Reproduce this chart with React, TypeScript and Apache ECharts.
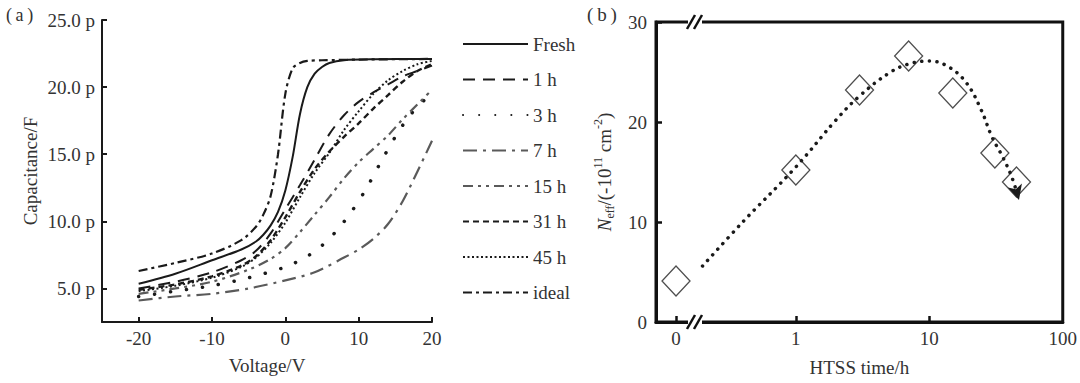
import React, { useEffect, useRef } from "react";
import * as echarts from "echarts";

// ---------- Data: panel (a) C–V curves, [voltage V, capacitance pF] ----------
const FRESH = [[-20, 5.35], [-15, 6.1], [-10, 7.1], [-6, 7.9], [-4, 8.5], [-3, 9.0], [-2, 9.7], [-1, 10.7], [0, 12.3], [1, 14.8], [2, 18.0], [3, 20.0], [4, 21.0], [5, 21.5], [6, 21.8], [8, 22.0], [12, 22.07], [20, 22.1]];
const H1 = [[-20, 5.0], [-15, 5.5], [-10, 6.2], [-6, 7.1], [-4, 7.8], [-2, 9.1], [0, 10.9], [2, 12.7], [4, 14.6], [6, 16.5], [8, 17.9], [10, 18.9], [12, 19.6], [14, 20.2], [16, 20.8], [18, 21.2], [20, 21.6]];
const H3 = [[-20, 4.4], [-15, 4.8], [-10, 5.2], [-5, 5.8], [0, 6.6], [3, 7.4], [5, 8.2], [7, 9.3], [9, 10.7], [11, 12.4], [13, 14.4], [15, 16.3], [17, 17.9], [20, 19.6]];
const H7 = [[-20, 4.1], [-15, 4.4], [-10, 4.6], [-5, 5.0], [0, 5.6], [4, 6.2], [8, 7.3], [10, 7.9], [12, 8.7], [14, 9.8], [16, 11.5], [18, 13.7], [20, 16.0]];
const H15 = [[-20, 4.6], [-15, 5.0], [-10, 5.5], [-5, 6.4], [-2, 7.2], [0, 8.0], [2, 9.2], [4, 10.5], [6, 11.8], [8, 13.2], [10, 14.4], [12, 15.4], [14, 16.4], [16, 17.6], [18, 18.7], [20, 19.8]];
const H31 = [[-20, 4.9], [-15, 5.3], [-10, 5.9], [-6, 6.7], [-4, 7.4], [-2, 8.6], [0, 10.3], [2, 12.2], [4, 13.9], [6, 15.2], [8, 16.3], [10, 17.3], [12, 18.4], [14, 19.4], [16, 20.4], [18, 21.2], [20, 21.7]];
const H45 = [[-20, 4.8], [-15, 5.2], [-10, 5.8], [-6, 6.6], [-4, 7.3], [-2, 8.4], [0, 9.9], [2, 11.8], [4, 13.6], [6, 15.1], [8, 16.8], [10, 18.2], [12, 19.5], [14, 20.5], [16, 21.2], [18, 21.7], [20, 21.95]];
const IDEAL = [[-20, 6.3], [-15, 6.9], [-10, 7.6], [-6, 8.6], [-4, 9.6], [-3, 10.5], [-2, 11.9], [-1, 15.0], [0, 19.5], [1, 21.4], [2, 21.8], [3, 21.95], [5, 22.0], [10, 22.05], [20, 22.1]];

const CURVE_NAMES = ["Fresh", "1 h", "3 h", "7 h", "15 h", "31 h", "45 h", "ideal"];
const CURVES = [FRESH, H1, H3, H7, H15, H31, H45, IDEAL];

const VOLT_TICKS = [-20, -10, 0, 10, 20];
const CAP_TICKS = [5, 10, 15, 20, 25];

// ---------- Data: panel (b) ----------
const HTSS_HOURS = [0, 1, 3, 7, 15, 31, 45];
const NEFF = [4.1, 15.2, 23.2, 26.6, 22.9, 16.9, 14.0];
const FIT_HOURS = [0.2, 0.4, 1, 2, 3, 5, 7, 10, 14, 19, 24.5, 29.5, 35.5, 41.5, 47];
const FIT_NEFF = [5.6, 10.0, 15.5, 20.2, 22.6, 24.9, 25.8, 26.1, 25.5, 23.9, 21.2, 18.5, 16.5, 14.5, 12.2];
const TIME_LABELS = ["0", "1", "10", "100"];

// position of the "0 h" point on the broken log axis (in decades)
const ZERO_POS = -0.898;
const toAxis = (t: number) => (t === 0 ? ZERO_POS : Math.log10(t));

// ---------- Styles ----------
const FONT = "'Liberation Serif', 'Times New Roman', 'DejaVu Serif', serif";
const TXT = "#333";
const INK = "#1a1a1a";
const GREY = "#5a5a5a";

const CURVE_STYLES: any[] = [
  { color: INK, width: 2, type: "solid" },
  { color: INK, width: 2, type: [12, 8] },
  { color: INK, width: 3.5, type: [0.1, 16], cap: "round" },
  { color: GREY, width: 2.2, type: [14, 6, 3, 6] },
  { color: GREY, width: 2.2, type: [10, 5, 3, 5, 3, 5] },
  { color: INK, width: 2.4, type: [6, 4] },
  { color: INK, width: 2, type: [2, 2.5] },
  { color: INK, width: 2.2, type: [9, 4, 3, 4] },
];

export default function App() {
  const ref = useRef<HTMLDivElement>(null);

  useEffect(() => {
    document.body.style.margin = "0";
    if (!ref.current) return;
    const chart = echarts.init(ref.current, null, { renderer: "svg" });

    const lineSeries = CURVES.map((pts, i) => ({
      name: CURVE_NAMES[i],
      type: "line",
      xAxisIndex: 0,
      yAxisIndex: 0,
      data: pts,
      symbol: "none",
      smooth: 0.3,
      lineStyle: { ...CURVE_STYLES[i] },
      itemStyle: { color: CURVE_STYLES[i].color },
      z: 3,
    }));

    const fitData: any[] = FIT_HOURS.map((t, i) => [toAxis(t), FIT_NEFF[i]]);
    const last = fitData[fitData.length - 1];
    fitData[fitData.length - 1] = {
      value: last,
      symbol: "arrow",
      symbolSize: [11, 15],
      symbolRotate: 196,
    };

    const timeLabelValues = [ZERO_POS, 0, 1, 2];

    const option: any = {
      animation: false,
      backgroundColor: "#fff",
      textStyle: { fontFamily: FONT },
      legend: {
        data: CURVE_NAMES,
        orient: "vertical",
        left: 462,
        top: 34,
        padding: 0,
        itemWidth: 65,
        itemHeight: 20,
        itemGap: 15.5,
        selectedMode: false,
        itemStyle: { opacity: 0 },
        textStyle: { fontSize: 19, fontFamily: FONT, color: TXT, lineHeight: 20 },
      },
      grid: [
        { left: 102, top: 20, width: 330, height: 302, show: false },
        { left: 656, top: 22, width: 407, height: 300, show: true, borderColor: "#111", borderWidth: 3 },
      ],
      xAxis: [
        {
          gridIndex: 0,
          type: "value",
          min: -25,
          max: 20,
          name: "Voltage/V",
          nameLocation: "middle",
          nameGap: 34,
          nameTextStyle: { fontSize: 19, fontFamily: FONT, color: TXT },
          axisLine: { onZero: false, lineStyle: { color: INK, width: 2 } },
          axisTick: { inside: true, length: 5, lineStyle: { color: INK, width: 2 }, customValues: VOLT_TICKS },
          axisLabel: { customValues: VOLT_TICKS, fontSize: 19, fontFamily: FONT, color: TXT, margin: 7 },
          splitLine: { show: false },
        },
        {
          gridIndex: 1,
          type: "value",
          min: -1.048,
          max: 2,
          name: "HTSS time/h",
          nameLocation: "middle",
          nameGap: 36,
          nameTextStyle: { fontSize: 19, fontFamily: FONT, color: TXT },
          axisLine: { onZero: false, lineStyle: { color: "#111", width: 3 } },
          axisTick: { inside: true, length: 6, lineStyle: { color: "#111", width: 2.5 }, customValues: [ZERO_POS, 0, 1] },
          axisLabel: {
            customValues: timeLabelValues,
            fontSize: 19,
            fontFamily: FONT,
            color: TXT,
            margin: 7,
            formatter: (v: number) => {
              const idx = timeLabelValues.findIndex((x) => Math.abs(x - v) < 1e-6);
              return idx >= 0 ? TIME_LABELS[idx] : "";
            },
          },
          splitLine: { show: false },
        },
      ],
      yAxis: [
        {
          gridIndex: 0,
          type: "value",
          min: 2.5,
          max: 25,
          name: "Capacitance/F",
          nameLocation: "middle",
          nameRotate: 90,
          nameGap: 62,
          nameTextStyle: { fontSize: 19, fontFamily: FONT, color: TXT },
          axisLine: { onZero: false, lineStyle: { color: INK, width: 2 } },
          axisTick: { inside: true, length: 5, lineStyle: { color: INK, width: 2 }, customValues: CAP_TICKS },
          axisLabel: {
            customValues: CAP_TICKS,
            fontSize: 19,
            fontFamily: FONT,
            color: TXT,
            margin: 7,
            formatter: (v: number) => v.toFixed(1) + " p",
          },
          splitLine: { show: false },
        },
        {
          gridIndex: 1,
          type: "value",
          min: 0,
          max: 30,
          interval: 10,
          name: "{i|N}{sub|eff}{n|/(-10}{sup|11}{n| cm}{sup|-2}{n|)}",
          nameLocation: "middle",
          nameRotate: 90,
          nameGap: 40,
          nameTextStyle: {
            fontSize: 19,
            fontFamily: FONT,
            color: TXT,
            rich: {
              n: { fontSize: 19, fontFamily: FONT, color: TXT, lineHeight: 24 },
              i: { fontSize: 19, fontFamily: FONT, color: TXT, fontStyle: "italic", lineHeight: 24 },
              sub: { fontSize: 12, fontFamily: FONT, color: TXT, verticalAlign: "bottom", lineHeight: 12 },
              sup: { fontSize: 12, fontFamily: FONT, color: TXT, verticalAlign: "top", lineHeight: 12 },
            },
          },
          axisLine: { onZero: false, lineStyle: { color: "#111", width: 3 } },
          axisTick: { inside: true, length: 6, lineStyle: { color: "#111", width: 2.5 } },
          axisLabel: { fontSize: 19, fontFamily: FONT, color: TXT, margin: 9 },
          splitLine: { show: false },
        },
      ],
      series: [
        ...lineSeries,
        {
          name: "fit",
          type: "line",
          xAxisIndex: 1,
          yAxisIndex: 1,
          data: fitData,
          symbol: "none",
          smooth: 0.4,
          lineStyle: { color: INK, width: 3.5, type: [0.1, 7.5], cap: "round" },
          itemStyle: { color: INK },
          z: 3,
        },
        {
          name: "Neff",
          type: "scatter",
          xAxisIndex: 1,
          yAxisIndex: 1,
          data: HTSS_HOURS.map((t, i) => [toAxis(t), NEFF[i]]),
          symbol: "diamond",
          symbolSize: [28, 30],
          itemStyle: { color: "rgba(255,255,255,0)", borderColor: "#222", borderWidth: 1.3 },
          z: 4,
        },
      ],
      graphic: [
        { type: "text", left: 6, top: 6, style: { text: "(\u2009a\u2009)", fontSize: 18, fontFamily: FONT, fill: TXT } },
        { type: "text", left: 587, top: 5, style: { text: "(\u2009b\u2009)", fontSize: 19, fontFamily: FONT, fill: TXT } },
        ...[22, 322].flatMap((y) => [
          { type: "rect", shape: { x: 688, y: y - 4, width: 14, height: 8 }, style: { fill: "#fff" }, z: 100 },
          { type: "line", shape: { x1: 687, y1: y + 7, x2: 695, y2: y - 7 }, style: { stroke: "#111", lineWidth: 2.5 }, z: 101 },
          { type: "line", shape: { x1: 694, y1: y + 7, x2: 702, y2: y - 7 }, style: { stroke: "#111", lineWidth: 2.5 }, z: 101 },
        ]),
      ],
    };

    chart.setOption(option);
    return () => chart.dispose();
  }, []);

  return <div ref={ref} style={{ width: 1080, height: 383 }} />;
}
